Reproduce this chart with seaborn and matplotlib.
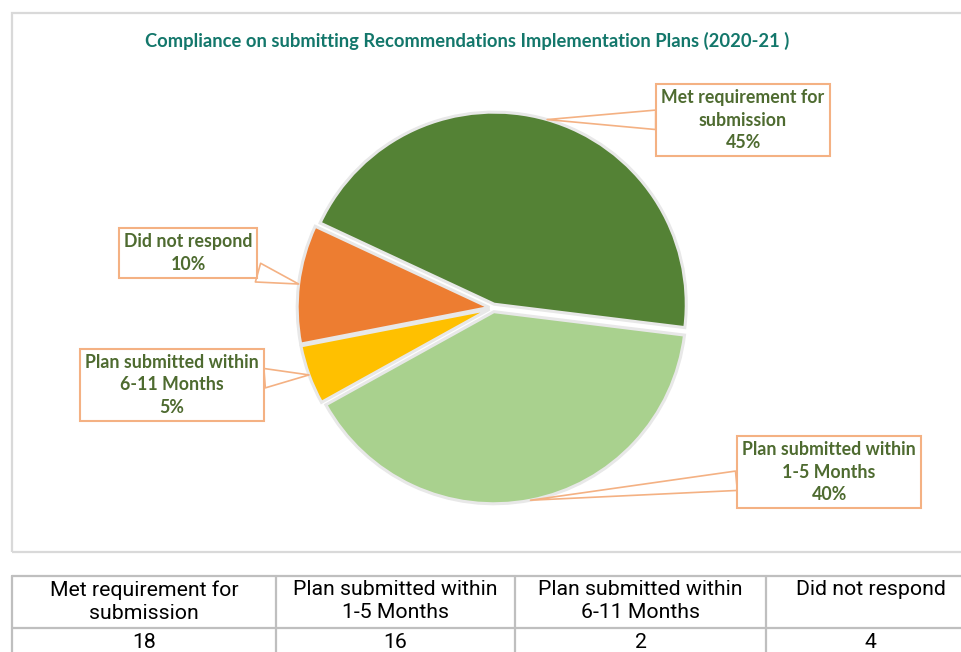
import numpy as np
import matplotlib
matplotlib.use("Agg")
import matplotlib.pyplot as plt
from matplotlib.patches import Rectangle
from matplotlib.lines import Line2D
import seaborn as sns

# ---------------- data ----------------
categories = ["Met requirement for\nsubmission",
              "Plan submitted within\n1-5 Months",
              "Plan submitted within\n6-11 Months",
              "Did not respond"]
counts = [18, 16, 2, 4]
colors = ["#548235", "#A9D18E", "#FFC000", "#ED7D31"]
title = "Compliance on submitting Recommendations Implementation Plans (2020-21 )"

# ---------------- style ----------------
sns.set_theme(style="white")
plt.rcParams["font.family"] = ["Lato", "DejaVu Sans"]

W, H = 961, 652
fig = plt.figure(figsize=(W / 100, H / 100), dpi=100)

def fx(x):
    return x / W

def fy(y):
    return 1 - y / H

# chart area border
fig.patches.append(Rectangle((fx(12), fy(552)), fx(990) - fx(12), fy(13) - fy(552),
                             transform=fig.transFigure, fill=False,
                             edgecolor="#D9D9D9", linewidth=1.6, zorder=0))

# title
fig.text(fx(467), fy(41), title, ha="center", va="center", fontsize=13.2,
         fontweight="bold", color="#13776B")

# pie axes
ax = fig.add_axes([fx(262.6), fy(308 + 230.4), 461 / W, 461 / H])
wedges, _ = ax.pie(counts, colors=colors, startangle=155, counterclock=False,
                   explode=[0.02] * len(counts), radius=1.0,
                   wedgeprops=dict(edgecolor="#E8E8E8", linewidth=2.2))
ax.set_xlim(-1.2, 1.2)
ax.set_ylim(-1.2, 1.2)
ax.set_aspect("equal")
ax.axis("off")

# callout labels
total = sum(counts)
label_pos = [(743, 120), (829, 472), (172, 385), (188, 253)]
for w, cat, n, (px, py) in zip(wedges, categories, counts, label_pos):
    mid = np.deg2rad((w.theta1 + w.theta2) / 2)
    cx, cy = w.center
    xy = (cx + w.r * np.cos(mid), cy + w.r * np.sin(mid))
    txt = f"{cat}\n{n / total:.0%}"
    ax.annotate(txt, xy=xy, xycoords="data",
                xytext=(fx(px), fy(py)), textcoords="figure fraction",
                ha="center", va="center", fontsize=12.8, fontweight="bold",
                color="#4E6B30", linespacing=1.4, annotation_clip=False,
                bbox=dict(boxstyle="square,pad=0.28", fc="white",
                          ec="#F4B183", lw=1.5),
                arrowprops=dict(arrowstyle="wedge,tail_width=0.7,shrink_factor=0.5",
                                fc="white", ec="#F4B183", lw=1.2,
                                mutation_scale=20, shrinkA=0, shrinkB=0))

# ---------------- table below ----------------
tcol = "#BFBFBF"
col_edges = [12, 276, 515, 766, 975]
row_edges = [576, 628, 680]
for y in row_edges:
    fig.lines.append(Line2D([fx(12), fx(990)], [fy(y), fy(y)], transform=fig.transFigure,
                            color=tcol, linewidth=1.6))
for x in col_edges:
    fig.lines.append(Line2D([fx(x), fx(x)], [fy(576), fy(680)], transform=fig.transFigure,
                            color=tcol, linewidth=1.6))
for i, (cat, n) in enumerate(zip(categories, counts)):
    xc = (col_edges[i] + col_edges[i + 1]) / 2
    fig.text(fx(xc), fy(580), cat, ha="center", va="top", fontsize=15.3,
             family=["Roboto", "DejaVu Sans"], color="#000000", linespacing=1.3)
    fig.text(fx(xc), fy(642), str(n), ha="center", va="center", fontsize=15.3,
             family=["Roboto", "DejaVu Sans"], color="#000000")

fig.savefig("out.png", dpi=100, facecolor="white")
